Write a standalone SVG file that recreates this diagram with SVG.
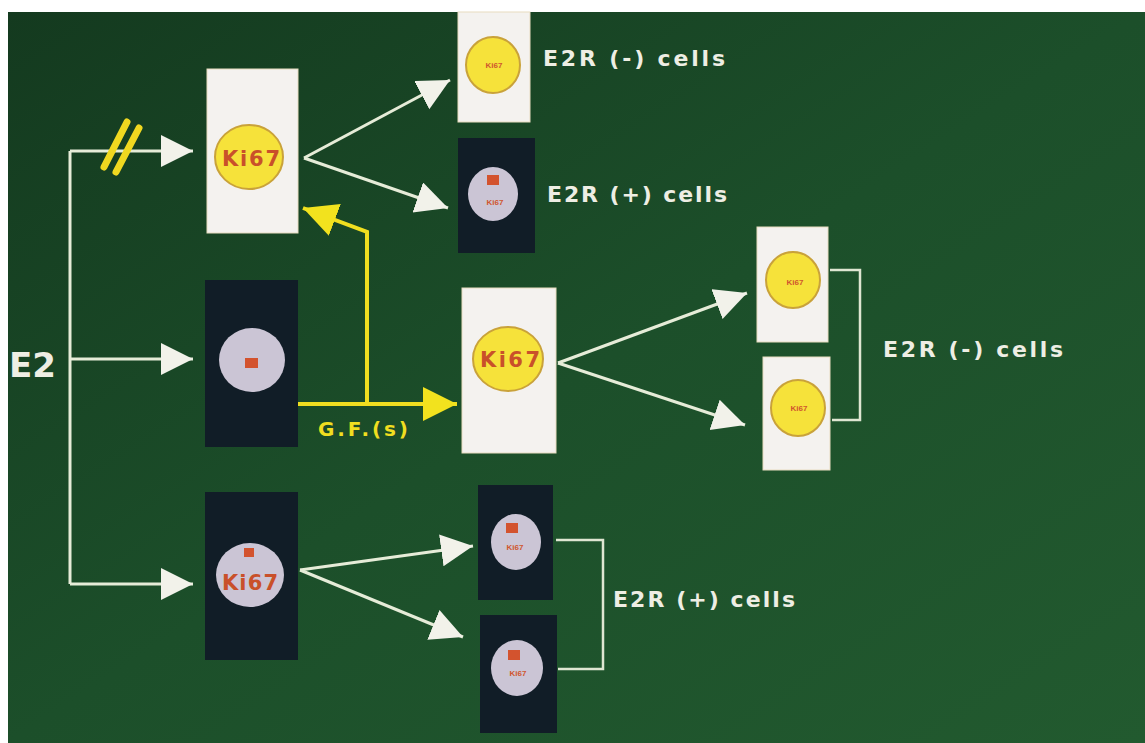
<svg xmlns="http://www.w3.org/2000/svg" width="1145" height="743" viewBox="0 0 1145 743">
<defs>
<linearGradient id="bg" x1="0" y1="0" x2="1" y2="1">
<stop offset="0" stop-color="#143a1f"/>
<stop offset="0.5" stop-color="#1c4f2a"/>
<stop offset="1" stop-color="#225a2f"/>
</linearGradient>
<marker id="aw" markerUnits="userSpaceOnUse" markerWidth="34" markerHeight="34" refX="32" refY="16" orient="auto" viewBox="0 0 34 34">
<path d="M0,0 L32,16 L0,32 Z" fill="#f2f2ea"/>
</marker>
<marker id="ay" markerUnits="userSpaceOnUse" markerWidth="36" markerHeight="36" refX="34" refY="17" orient="auto" viewBox="0 0 36 36">
<path d="M0,0 L34,17 L0,34 Z" fill="#f2e21e"/>
</marker>
<style>
.wc{fill:#f4f2ef;stroke:#e8dcc0;stroke-width:1}
.dc{fill:#111d27}
.yc{fill:#f6e23a;stroke:#c9a23a;stroke-width:2}
.gc{fill:#cbc5d5}
.sq{fill:#d3532e}
.k{font-family:"DejaVu Sans","Liberation Sans",Arial,sans-serif;font-weight:bold;fill:#c9502a;text-anchor:middle}
.ks{font-family:"Liberation Sans",Arial,sans-serif;font-weight:bold;fill:#d0562e;text-anchor:middle;font-size:8px}
.lb{font-family:"DejaVu Sans","Liberation Sans",Arial,sans-serif;font-weight:bold;fill:#eeeee4;font-size:22px}
.ln{fill:none;stroke:#e6ecd8;stroke-width:3}
.br{fill:none;stroke:#dfe6d2;stroke-width:2.5}
.yl{fill:none;stroke:#f0de20;stroke-width:4}
</style>
</defs>
<rect x="0" y="0" width="1145" height="743" fill="#ffffff"/>
<rect x="8" y="12" width="1137" height="731" fill="url(#bg)"/>

<g id="connectors">
<path class="ln" d="M70,151 L70,584"/>
<path class="ln" d="M70,151 L193,151" marker-end="url(#aw)"/>
<path class="ln" d="M70,359 L193,359" marker-end="url(#aw)"/>
<path class="ln" d="M70,584 L193,584" marker-end="url(#aw)"/>
<path class="ln" d="M304,158 L450,80" marker-end="url(#aw)"/>
<path class="ln" d="M304,158 L448,208" marker-end="url(#aw)"/>
<path class="ln" d="M558,363 L747,293" marker-end="url(#aw)"/>
<path class="ln" d="M558,363 L745,425" marker-end="url(#aw)"/>
<path class="ln" d="M300,570 L473,546" marker-end="url(#aw)"/>
<path class="ln" d="M300,570 L463,637" marker-end="url(#aw)"/>
<path class="br" d="M830,270 H860 V420 H832"/>
<path class="br" d="M556,540 H603 V669 H558"/>
<path class="yl" d="M282,404 L457,404" marker-end="url(#ay)"/>
<path class="yl" d="M367,404 L367,232 L303,208" marker-end="url(#ay)"/>
<g id="block-mark" stroke="#f0d820" stroke-width="7" stroke-linecap="round">
<line x1="127" y1="122" x2="104" y2="167"/>
<line x1="139" y1="128" x2="116" y2="172"/>
</g>
</g>

<g id="e2">
<text x="9" y="377" font-family="'DejaVu Sans','Liberation Sans',Arial,sans-serif" font-weight="bold" font-size="34" fill="#eeeee4" textLength="47" lengthAdjust="spacingAndGlyphs">E2</text>
</g>

<g id="cell-tl">
<rect class="wc" x="207" y="69" width="91" height="164"/>
<ellipse class="yc" cx="249" cy="157" rx="34" ry="32"/>
<text class="k" x="251" y="166" font-size="21" textLength="58" lengthAdjust="spacing">Ki67</text>
</g>

<g id="cell-mid">
<rect class="dc" x="205" y="280" width="93" height="167"/>
<ellipse class="gc" cx="252" cy="360" rx="33" ry="32"/>
<rect class="sq" x="245" y="358" width="13" height="10"/>
</g>

<g id="cell-bl">
<rect class="dc" x="205" y="492" width="93" height="168"/>
<ellipse class="gc" cx="250" cy="575" rx="34" ry="32"/>
<rect class="sq" x="244" y="548" width="10" height="9"/>
<text class="k" x="250" y="590" font-size="21" textLength="56" lengthAdjust="spacing" fill="#d04a30">Ki67</text>
</g>

<g id="cell-tr1">
<rect class="wc" x="458" y="12" width="72" height="110"/>
<ellipse class="yc" cx="493" cy="65" rx="27" ry="28"/>
<text class="ks" x="494" y="68">Ki67</text>
</g>

<g id="cell-tr2">
<rect class="dc" x="458" y="138" width="77" height="115"/>
<ellipse class="gc" cx="493" cy="194" rx="25" ry="27"/>
<rect class="sq" x="487" y="175" width="12" height="10"/>
<text class="ks" x="495" y="205">Ki67</text>
</g>

<g id="cell-mw">
<rect class="wc" x="462" y="288" width="94" height="165"/>
<ellipse class="yc" cx="508" cy="359" rx="35" ry="32"/>
<text class="k" x="510" y="367" font-size="21" textLength="60" lengthAdjust="spacing">Ki67</text>
</g>

<g id="cell-r1">
<rect class="wc" x="757" y="227" width="71" height="115"/>
<ellipse class="yc" cx="793" cy="280" rx="27" ry="28"/>
<text class="ks" x="795" y="285">Ki67</text>
</g>

<g id="cell-r2">
<rect class="wc" x="763" y="357" width="67" height="113"/>
<ellipse class="yc" cx="798" cy="408" rx="27" ry="28"/>
<text class="ks" x="799" y="411">Ki67</text>
</g>

<g id="cell-br1">
<rect class="dc" x="478" y="485" width="75" height="115"/>
<ellipse class="gc" cx="516" cy="542" rx="25" ry="28"/>
<rect class="sq" x="506" y="523" width="12" height="10"/>
<text class="ks" x="515" y="550">Ki67</text>
</g>

<g id="cell-br2">
<rect class="dc" x="480" y="615" width="77" height="118"/>
<ellipse class="gc" cx="517" cy="668" rx="26" ry="28"/>
<rect class="sq" x="508" y="650" width="12" height="10"/>
<text class="ks" x="518" y="676">Ki67</text>
</g>

<g id="labels">
<text class="lb" x="543" y="66" textLength="182" lengthAdjust="spacing">E2R (-) cells</text>
<text class="lb" x="547" y="202" textLength="180" lengthAdjust="spacing">E2R (+) cells</text>
<text class="lb" x="883" y="357" textLength="180" lengthAdjust="spacing">E2R (-) cells</text>
<text class="lb" x="613" y="607" textLength="182" lengthAdjust="spacing">E2R (+) cells</text>
<text x="318" y="436" font-family="'DejaVu Sans','Liberation Sans',Arial,sans-serif" font-weight="bold" font-size="20" fill="#f0de20" textLength="90" lengthAdjust="spacing">G.F.(s)</text>
</g>
</svg>
